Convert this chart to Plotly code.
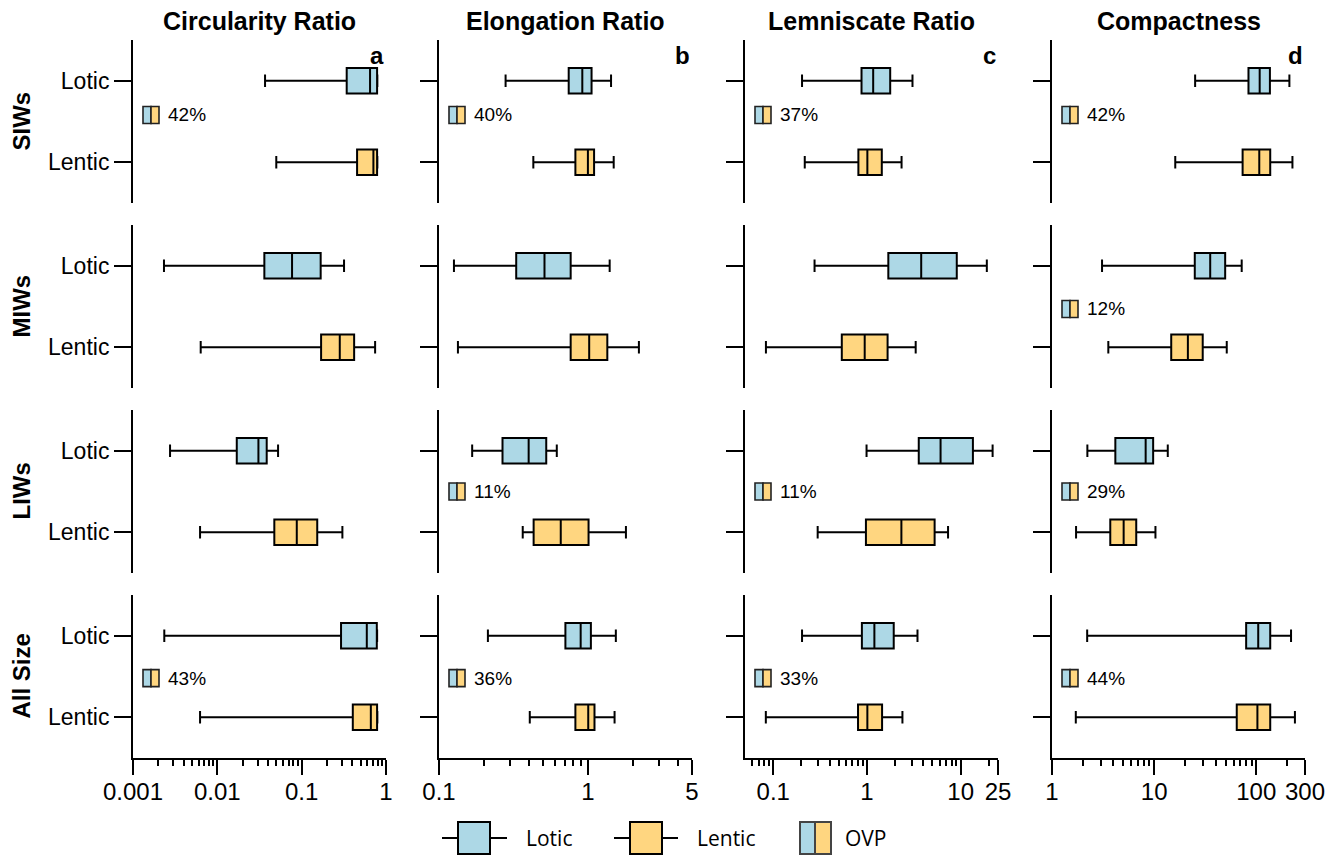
import plotly.graph_objects as go
import math

# ---------------- data ----------------
metrics = ["Circularity Ratio", "Elongation Ratio", "Lemniscate Ratio", "Compactness"]
size_classes = ["SIWs", "MIWs", "LIWs", "All Size"]
groups = ["Lotic", "Lentic"]
panel_letters = ["a", "b", "c", "d"]

# each row: [lower whisker, Q1, median, Q3, upper whisker]; rows = SIWs, MIWs, LIWs, All Size
circularity_lotic = [[0.0368, 0.342, 0.647, 0.784, 0.79],
                     [0.00233, 0.0361, 0.0769, 0.168, 0.318],
                     [0.00275, 0.0170, 0.0307, 0.0385, 0.0525],
                     [0.00235, 0.293, 0.592, 0.778, 0.785]]
circularity_lentic = [[0.050, 0.454, 0.709, 0.784, 0.79],
                      [0.00635, 0.170, 0.283, 0.419, 0.743],
                      [0.00624, 0.0474, 0.0875, 0.153, 0.304],
                      [0.00624, 0.404, 0.661, 0.784, 0.79]]
elongation_lotic = [[0.280, 0.743, 0.917, 1.058, 1.43],
                    [0.126, 0.330, 0.511, 0.766, 1.40],
                    [0.167, 0.267, 0.400, 0.525, 0.618],
                    [0.213, 0.706, 0.894, 1.047, 1.54]]
elongation_lentic = [[0.430, 0.824, 1.00, 1.10, 1.49],
                     [0.134, 0.766, 1.02, 1.35, 2.20],
                     [0.365, 0.432, 0.657, 1.01, 1.80],
                     [0.407, 0.824, 1.005, 1.107, 1.51]]
lemniscate_lotic = [[0.203, 0.875, 1.165, 1.77, 3.06],
                    [0.276, 1.69, 3.79, 9.08, 19.0],
                    [0.99, 3.57, 6.10, 13.5, 21.9],
                    [0.203, 0.883, 1.20, 1.93, 3.46]]
lemniscate_lentic = [[0.217, 0.81, 1.01, 1.44, 2.34],
                     [0.0836, 0.539, 0.946, 1.66, 3.31],
                     [0.298, 0.975, 2.33, 5.27, 7.33],
                     [0.0834, 0.803, 1.01, 1.45, 2.39]]
compactness_lotic = [[25.2, 83.9, 108, 136, 211],
                     [3.09, 25.0, 35.4, 49.6, 72.0],
                     [2.22, 4.17, 8.26, 9.78, 13.6],
                     [2.21, 79.6, 104.5, 137, 219]]
compactness_lentic = [[16.1, 73.5, 107, 137, 226],
                      [3.56, 14.7, 21.4, 29.9, 51.4],
                      [1.72, 3.72, 5.03, 6.68, 10.3],
                      [1.71, 64.4, 102.6, 137, 239]]

# overlap percentage (OVP); None = not shown
ovp_pct = [[42, 40, 37, 42],
           [None, None, None, 12],
           [None, 11, 11, 29],
           [43, 36, 33, 44]]

x_ranges = [(0.001, 1), (0.1, 5), (0.05, 25), (1, 300)]
x_ticks = [[0.001, 0.01, 0.1, 1], [0.1, 1, 5], [0.1, 1, 10, 25], [1, 10, 100, 300]]
x_ticktext = [["0.001", "0.01", "0.1", "1"], ["0.1", "1", "5"], ["0.1", "1", "10", "25"], ["1", "10", "100", "300"]]

stats_by_metric = [
    (circularity_lotic, circularity_lentic),
    (elongation_lotic, elongation_lentic),
    (lemniscate_lotic, lemniscate_lentic),
    (compactness_lotic, compactness_lentic),
]

# ---------------- styling / layout ----------------
W, H = 1341, 858
BLUE = "#ADD8E6"
YELLOW = "#FFD680"
FONT = "Liberation Sans, Arial, sans-serif"
FONT2 = "Open Sans, sans-serif"
col_px = [(133, 386), (439, 692), (745, 998), (1052, 1305)]
row_top = [40, 225, 410, 595]
row_h = 163
ovp_y = [0.58, 0.47, 0.5, 0.48]
group_pos = {"Lotic": 1, "Lentic": 0}
group_color = {"Lotic": BLUE, "Lentic": YELLOW}


def minor_ticks(c):
    lo, hi = x_ranges[c]
    vals = []
    for e in range(-4, 4):
        for k in range(2, 10):
            v = k * 10 ** e
            if lo * 1.0001 < v < hi * 0.9999 and v not in x_ticks[c]:
                vals.append(v)
    return vals


def px_x(x):
    return x / W


def px_y(y):
    return 1 - y / H


fig = go.Figure()
layout = dict(width=W, height=H, margin=dict(l=0, r=0, t=0, b=0, pad=0, autoexpand=False),
              plot_bgcolor="white", paper_bgcolor="white", showlegend=False,
              font=dict(family=FONT, color="black"))
shapes = []
annotations = []

for r in range(4):
    for c in range(4):
        i = r * 4 + c + 1
        xn = "x" if i == 1 else f"x{i}"
        yn = "y" if i == 1 else f"y{i}"
        xk = "xaxis" if i == 1 else f"xaxis{i}"
        yk = "yaxis" if i == 1 else f"yaxis{i}"
        x0p, x1p = col_px[c]
        ytop = row_top[r]
        ybot = ytop + row_h
        bottom = (r == 3)
        lo, hi = x_ranges[c]
        xa = dict(type="log", domain=[px_x(x0p), px_x(x1p)], anchor=yn,
                  range=[math.log10(lo), math.log10(hi)], showgrid=False, zeroline=False,
                  fixedrange=True, automargin=False)
        if bottom:
            xa.update(showline=True, linewidth=2, linecolor="black", ticks="outside",
                      ticklen=15, tickwidth=2, tickcolor="black", tickmode="array",
                      tickvals=x_ticks[c], ticktext=x_ticktext[c], ticklabelstandoff=-4,
                      tickfont=dict(size=24, family=FONT, color="black"),
                      minor=dict(tickmode="array", tickvals=minor_ticks(c), ticks="outside",
                                 ticklen=6, tickwidth=1.5, tickcolor="black", showgrid=False))
        else:
            xa.update(showline=False, showticklabels=False, ticks="")
        layout[xk] = xa
        ya = dict(domain=[px_y(ybot), px_y(ytop)], anchor=xn, range=[-0.5, 1.5],
                  showgrid=False, zeroline=False, showline=True, linewidth=2, linecolor="black",
                  ticks="outside", ticklen=17, tickwidth=2, tickcolor="black",
                  tickmode="array", tickvals=[group_pos[g] for g in groups], ticktext=groups,
                  showticklabels=(c == 0), tickfont=dict(size=23, family=FONT, color="black"),
                  fixedrange=True, automargin=False)
        layout[yk] = ya

        lotic, lentic = stats_by_metric[c]
        for g, st in (("Lotic", lotic[r]), ("Lentic", lentic[r])):
            fig.add_trace(go.Box(
                y0=group_pos[g], lowerfence=[st[0]], q1=[st[1]], median=[st[2]],
                q3=[st[3]], upperfence=[st[4]], orientation="h",
                fillcolor=group_color[g], line=dict(color="black", width=2),
                width=0.31, whiskerwidth=0.5, boxpoints=False,
                xaxis=xn, yaxis=yn, hoverinfo="skip", name=g))

        # OVP marker
        p = ovp_pct[r][c]
        if p is not None:
            wpx = x1p - x0p
            bx0 = 10 / wpx
            bxm = 18 / wpx
            bx1 = 26 / wpx
            hh = 8.5 / (row_h / 2.0)
            yc = ovp_y[r]
            shapes.append(dict(type="rect", xref=f"{xn} domain", yref=yn, x0=bx0, x1=bxm,
                               y0=yc - hh, y1=yc + hh, fillcolor=BLUE,
                               line=dict(color="#222", width=1.6), layer="above"))
            shapes.append(dict(type="rect", xref=f"{xn} domain", yref=yn, x0=bxm, x1=bx1,
                               y0=yc - hh, y1=yc + hh, fillcolor=YELLOW,
                               line=dict(color="#222", width=1.6), layer="above"))
            annotations.append(dict(xref=f"{xn} domain", yref=yn, x=33 / wpx, y=yc,
                                    text=f"{p}%", showarrow=False, xanchor="left",
                                    yanchor="middle",
                                    font=dict(size=19, family=FONT, color="black")))
        # panel letters
        if r == 0:
            annotations.append(dict(xref=f"{xn} domain", yref=f"{yn} domain", x=1, y=1,
                                    text=f"<b>{panel_letters[c]}</b>", showarrow=False,
                                    xanchor="right", yanchor="top",
                                    font=dict(size=24, family=FONT, color="black")))

# column titles
for c, m in enumerate(metrics):
    x0p, x1p = col_px[c]
    annotations.append(dict(xref="paper", yref="paper", x=px_x((x0p + x1p) / 2), y=px_y(21),
                            text=f"<b>{m}</b>", showarrow=False, xanchor="center",
                            yanchor="middle", font=dict(size=25, family=FONT, color="black")))
# row labels
for r, s in enumerate(size_classes):
    annotations.append(dict(xref="paper", yref="paper", x=px_x(21), y=px_y(row_top[r] + row_h / 2),
                            text=f"<b>{s}</b>", showarrow=False, textangle=-90,
                            xanchor="center", yanchor="middle",
                            font=dict(size=24, family=FONT, color="black")))

# legend (drawn manually)
ly = 838
for (wl, wr, bl, br, tx, g) in [(442, 507, 458, 490, 524, "Lotic"), (614, 678, 630, 662, 695, "Lentic")]:
    shapes.append(dict(type="line", xref="paper", yref="paper", x0=px_x(wl), x1=px_x(wr),
                       y0=px_y(ly), y1=px_y(ly), line=dict(color="black", width=2)))
    shapes.append(dict(type="rect", xref="paper", yref="paper", x0=px_x(bl), x1=px_x(br),
                       y0=px_y(ly + 16), y1=px_y(ly - 16), fillcolor=group_color[g],
                       line=dict(color="black", width=2)))
    annotations.append(dict(xref="paper", yref="paper", x=px_x(tx), y=px_y(ly), text=g,
                            showarrow=False, xanchor="left", yanchor="middle",
                            font=dict(size=21, family=FONT2, color="black")))
shapes.append(dict(type="rect", xref="paper", yref="paper", x0=px_x(800), x1=px_x(815),
                   y0=px_y(ly + 16), y1=px_y(ly - 16), fillcolor=BLUE,
                   line=dict(color="#444", width=2)))
shapes.append(dict(type="rect", xref="paper", yref="paper", x0=px_x(815), x1=px_x(831),
                   y0=px_y(ly + 16), y1=px_y(ly - 16), fillcolor=YELLOW,
                   line=dict(color="#444", width=2)))
annotations.append(dict(xref="paper", yref="paper", x=px_x(843), y=px_y(ly), text="OVP",
                        showarrow=False, xanchor="left", yanchor="middle",
                        font=dict(size=21, family=FONT2, color="black")))

layout["shapes"] = shapes
layout["annotations"] = annotations
fig.update_layout(**layout)
fig.write_html("out.html")
